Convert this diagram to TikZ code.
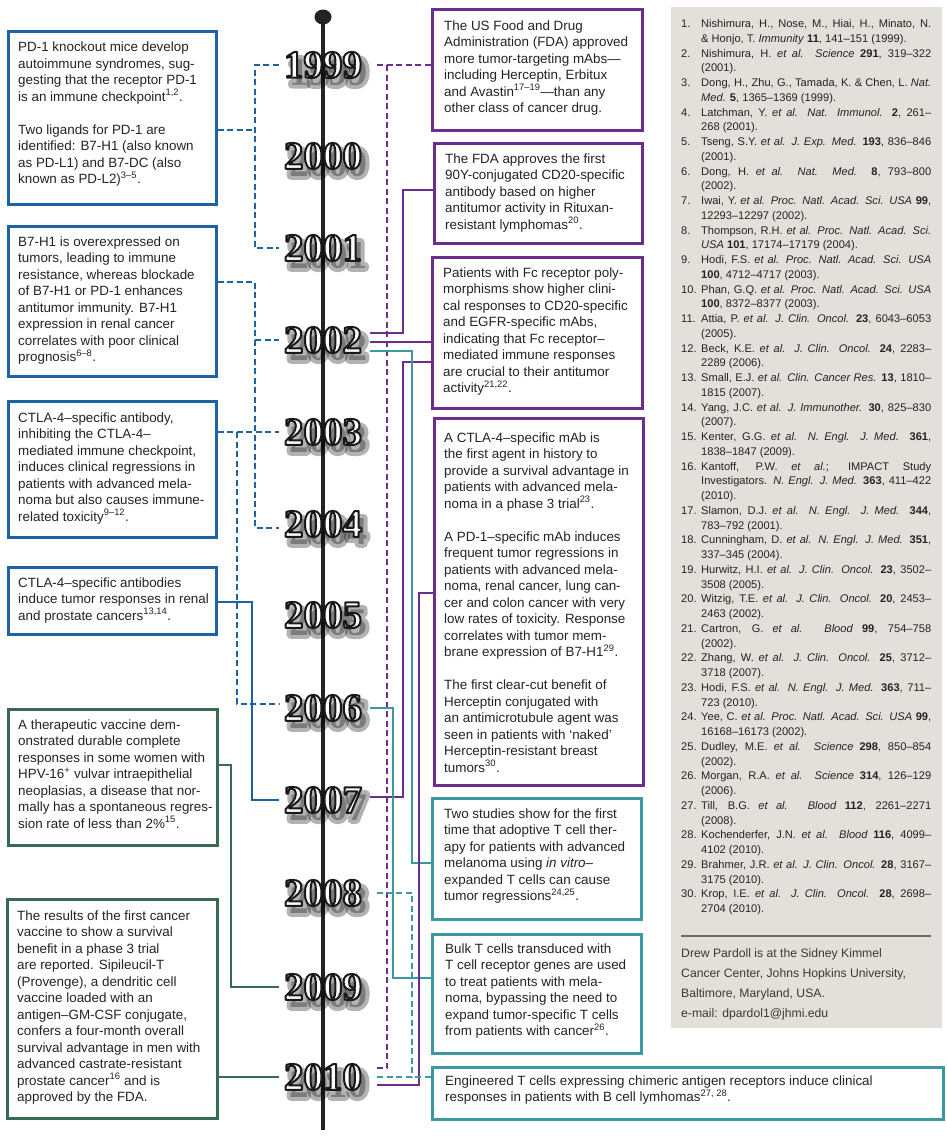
\documentclass[tikz,border=0pt]{standalone}
\usepackage{fontspec}
\setmainfont{Liberation Sans}
\newfontfamily\yearfam{Liberation Serif}
\usetikzlibrary{calc,shapes.geometric}
\definecolor{cblue}{RGB}{30,98,166}
\definecolor{cpurple}{RGB}{108,46,142}
\definecolor{cteal}{RGB}{60,153,163}
\definecolor{cgreen}{RGB}{55,106,80}
\definecolor{panelc}{RGB}{227,223,219}
\definecolor{ink}{RGB}{38,34,35}
\definecolor{rulec}{RGB}{110,105,100}
\definecolor{authc}{RGB}{60,56,52}
\newcommand\bodyfont{\fontsize{13.4}{16.5}\selectfont}
\newcommand\reffont{\fontsize{11.1}{14.75}\selectfont}
\newcommand\yrfont{\yearfam\bfseries\fontsize{39}{40}\selectfont}
\newcommand\st{\rule{0pt}{10pt}}
\newcommand\sups[1]{\textsuperscript{#1}}
\newcommand\rf[3]{\makebox[20pt][l]{#1.}\makebox[230pt][s]{#2}\\\hspace*{20pt}#3}
% outlined text: stroke width, stroke rgb, fill rgb, text
\newcommand\outl[4]{\special{pdf:literal direct q 2 Tr 1 j 1 J #1 w #2 RG #3 rg}#4\special{pdf:literal direct Q}}
\newcommand\yearnode[3]{%
  \node[yr, opacity=0.3] at (323+5,#2+7) {\outl{8}{0 0 0}{0 0 0}{#3}};
  \node[yr] (#1) at (323,#2) {\outl{2}{0.1 0.1 0.1}{1 1 1}{#3}};
}
\tikzset{
  box/.style={draw, line width=2.9pt, anchor=north west, inner sep=0pt, fill=white},
  bluebox/.style={box, draw=cblue},
  greenbox/.style={box, draw=cgreen},
  purplebox/.style={box, draw=cpurple},
  tealbox/.style={box, draw=cteal},
  txt/.style={anchor=north west, inner sep=0pt, align=left, font=\bodyfont, text=ink},
  yr/.style={font=\yrfont, inner sep=0pt},
  conn/.style={line width=2.4pt},
  bsolid/.style={conn, draw=cblue},
  bdash/.style={bsolid, dash pattern=on 6pt off 3.5pt},
  gsolid/.style={conn, draw=cgreen},
  psolid/.style={conn, draw=cpurple},
  pdash/.style={psolid, dash pattern=on 6pt off 3.5pt},
  tsolid/.style={conn, draw=cteal},
  tdash/.style={tsolid, dash pattern=on 6pt off 3.5pt},
}
\begin{document}
\begin{tikzpicture}[x=1pt,y=-1pt]
\useasboundingbox (0,0) rectangle (946,1136);
\fill[white] (0,0) rectangle (946,1136);
% reference panel
\node[fill=panelc, inner sep=0pt, minimum width=271pt, minimum height=1021pt, anchor=north west] (panel) at (671,7) {};
% timeline
\node[ellipse, fill=ink, inner sep=0pt, minimum width=17pt, minimum height=15pt] (top) at (323,17) {};
\coordinate (bottom) at (323,1130);
\draw[ink, line width=3.6pt] (top.center) -- (bottom);
% years
\yearnode{y1999}{65}{1999}
\yearnode{y2000}{156}{2000}
\yearnode{y2001}{248}{2001}
\yearnode{y2002}{340}{2002}
\yearnode{y2003}{432}{2003}
\yearnode{y2004}{524}{2004}
\yearnode{y2005}{615}{2005}
\yearnode{y2006}{708}{2006}
\yearnode{y2007}{800}{2007}
\yearnode{y2008}{893}{2008}
\yearnode{y2009}{987}{2009}
\yearnode{y2010}{1077}{2010}
% boxes
\node[bluebox, minimum width=208pt, minimum height=173pt] (bA) at (7,30) {};
\node[bluebox, minimum width=208pt, minimum height=150pt] (bB) at (7,225) {};
\node[bluebox, minimum width=208pt, minimum height=136pt] (bC) at (7,400) {};
\node[bluebox, minimum width=208pt, minimum height=67pt] (bD) at (7,566) {};
\node[greenbox, minimum width=209pt, minimum height=136pt] (bE) at (7,708) {};
\node[greenbox, minimum width=210pt, minimum height=219pt] (bF) at (6,898) {};
\node[purplebox, minimum width=210pt, minimum height=121pt] (bG) at (431,8) {};
\node[purplebox, minimum width=208pt, minimum height=100pt] (bH) at (433,142) {};
\node[purplebox, minimum width=210pt, minimum height=151pt] (bI) at (431,256) {};
\node[purplebox, minimum width=209pt, minimum height=367pt] (bJ) at (433,417) {};
\node[tealbox, minimum width=209pt, minimum height=121pt] (bK) at (431,797) {};
\node[tealbox, minimum width=209pt, minimum height=119pt] (bL) at (431,933) {};
\node[tealbox, minimum width=511pt, minimum height=52pt] (bM) at (431,1066) {};
% box texts
\node[txt] (tA) at (18,41.5) {\st PD-1 knockout mice develop\\autoimmune syndromes, sug-\\gesting that the receptor PD-1\\is an immune checkpoint\sups{1,2}.\\[16.5pt]Two ligands for PD-1 are\\identified: B7-H1 (also known\\as PD-L1) and B7-DC (also\\known as PD-L2)\sups{3–5}.};
\node[txt] (tB) at (18,236) {\st B7-H1 is overexpressed on\\tumors, leading to immune\\resistance, whereas blockade\\of B7-H1 or PD-1 enhances\\antitumor immunity. B7-H1\\expression in renal cancer\\correlates with poor clinical\\prognosis\sups{6–8}.};
\node[txt] (tC) at (18,412) {\st CTLA-4–specific antibody,\\inhibiting the CTLA-4–\\mediated immune checkpoint,\\induces clinical regressions in\\patients with advanced mela-\\noma but also causes immune-\\related toxicity\sups{9–12}.};
\node[txt] (tD) at (18,577) {\st CTLA-4–specific antibodies\\induce tumor responses in renal\\and prostate cancers\sups{13,14}.};
\node[txt] (tE) at (18,719) {\st A therapeutic vaccine dem-\\onstrated durable complete\\responses in some women with\\HPV-16\sups{+} vulvar intraepithelial\\neoplasias, a disease that nor-\\mally has a spontaneous regres-\\sion rate of less than 2\%\sups{15}.};
\node[txt] (tF) at (17,910) {\st The results of the first cancer\\vaccine to show a survival\\benefit in a phase 3 trial\\are reported. Sipileucil-T\\(Provenge), a dendritic cell\\vaccine loaded with an\\antigen–GM-CSF conjugate,\\confers a four-month overall\\survival advantage in men with\\advanced castrate-resistant\\prostate cancer\sups{16} and is\\approved by the FDA.};
\node[txt] (tG) at (444,20) {\st The US Food and Drug\\Administration (FDA) approved\\more tumor-targeting mAbs—\\including Herceptin, Erbitux\\and Avastin\sups{17–19}—than any\\other class of cancer drug.};
\node[txt] (tH) at (445,153) {\st The FDA approves the first\\90Y-conjugated CD20-specific\\antibody based on higher\\antitumor activity in Rituxan-\\resistant lymphomas\sups{20}.};
\node[txt] (tI) at (443,267) {\st Patients with Fc receptor poly-\\morphisms show higher clini-\\cal responses to CD20-specific\\and EGFR-specific mAbs,\\indicating that Fc receptor–\\mediated immune responses\\are crucial to their antitumor\\activity\sups{21,22}.};
\node[txt] (tJ) at (444,432) {\st A CTLA-4–specific mAb is\\the first agent in history to\\provide a survival advantage in\\patients with advanced mela-\\noma in a phase 3 trial\sups{23}.\\[16.5pt]A PD-1–specific mAb induces\\frequent tumor regressions in\\patients with advanced mela-\\noma, renal cancer, lung can-\\cer and colon cancer with very\\low rates of toxicity. Response\\correlates with tumor mem-\\brane expression of B7-H1\sups{29}.\\[16.5pt]The first clear-cut benefit of\\Herceptin conjugated with\\an antimicrotubule agent was\\seen in patients with ‘naked’\\Herceptin-resistant breast\\tumors\sups{30}.};
\node[txt] (tK) at (444,808) {\st Two studies show for the first\\time that adoptive T cell ther-\\apy for patients with advanced\\melanoma using \textit{in vitro}–\\expanded T cells can cause\\tumor regressions\sups{24,25}.};
\node[txt] (tL) at (445,943) {\st Bulk T cells transduced with\\T cell receptor genes are used\\to treat patients with mela-\\noma, bypassing the need to\\expand tumor-specific T cells\\from patients with cancer\sups{26}.};
\node[txt] (tM) at (445,1075) {\st Engineered T cells expressing chimeric antigen receptors induce clinical\\responses in patients with B cell lymhomas\sups{27, 28}.};
% references
\node[anchor=north west, inner sep=0pt, align=left, font=\reffont, text=ink] (refs) at (681,18.4) {\rule{0pt}{9pt}%
\rf{1}{Nishimura, H., Nose, M., Hiai, H., Minato, N.}{\& Honjo, T. \textit{Immunity} \textbf{11}, 141–151 (1999).}\\
\rf{2}{Nishimura, H. \textit{et al. Science} \textbf{291}, 319–322}{(2001).}\\
\rf{3}{Dong, H., Zhu, G., Tamada, K. \& Chen, L. \textit{Nat.}}{\textit{Med.} \textbf{5}, 1365–1369 (1999).}\\
\rf{4}{Latchman, Y. \textit{et al. Nat. Immunol.} \textbf{2}, 261–}{268 (2001).}\\
\rf{5}{Tseng, S.Y. \textit{et al. J. Exp. Med.} \textbf{193}, 836–846}{(2001).}\\
\rf{6}{Dong, H. \textit{et al. Nat. Med.} \textbf{8}, 793–800}{(2002).}\\
\rf{7}{Iwai, Y. \textit{et al. Proc. Natl. Acad. Sci. USA} \textbf{99},}{12293–12297 (2002).}\\
\rf{8}{Thompson, R.H. \textit{et al. Proc. Natl. Acad. Sci.}}{\textit{USA} \textbf{101}, 17174–17179 (2004).}\\
\rf{9}{Hodi, F.S. \textit{et al. Proc. Natl. Acad. Sci. USA}}{\textbf{100}, 4712–4717 (2003).}\\
\rf{10}{Phan, G.Q. \textit{et al. Proc. Natl. Acad. Sci. USA}}{\textbf{100}, 8372–8377 (2003).}\\
\rf{11}{Attia, P. \textit{et al. J. Clin. Oncol.} \textbf{23}, 6043–6053}{(2005).}\\
\rf{12}{Beck, K.E. \textit{et al. J. Clin. Oncol.} \textbf{24}, 2283–}{2289 (2006).}\\
\rf{13}{Small, E.J. \textit{et al. Clin. Cancer Res.} \textbf{13}, 1810–}{1815 (2007).}\\
\rf{14}{Yang, J.C. \textit{et al. J. Immunother.} \textbf{30}, 825–830}{(2007).}\\
\rf{15}{Kenter, G.G. \textit{et al. N. Engl. J. Med.} \textbf{361},}{1838–1847 (2009).}\\
\rf{16}{Kantoff, P.W. \textit{et al.}; IMPACT Study}{\makebox[230pt][s]{Investigators. \textit{N. Engl. J. Med.} \textbf{363}, 411–422}}\\
\hspace*{20pt}(2010).\\
\rf{17}{Slamon, D.J. \textit{et al. N. Engl. J. Med.} \textbf{344},}{783–792 (2001).}\\
\rf{18}{Cunningham, D. \textit{et al. N. Engl. J. Med.} \textbf{351},}{337–345 (2004).}\\
\rf{19}{Hurwitz, H.I. \textit{et al. J. Clin. Oncol.} \textbf{23}, 3502–}{3508 (2005).}\\
\rf{20}{Witzig, T.E. \textit{et al. J. Clin. Oncol.} \textbf{20}, 2453–}{2463 (2002).}\\
\rf{21}{Cartron, G. \textit{et al. Blood} \textbf{99}, 754–758}{(2002).}\\
\rf{22}{Zhang, W. \textit{et al. J. Clin. Oncol.} \textbf{25}, 3712–}{3718 (2007).}\\
\rf{23}{Hodi, F.S. \textit{et al. N. Engl. J. Med.} \textbf{363}, 711–}{723 (2010).}\\
\rf{24}{Yee, C. \textit{et al. Proc. Natl. Acad. Sci. USA} \textbf{99},}{16168–16173 (2002).}\\
\rf{25}{Dudley, M.E. \textit{et al. Science} \textbf{298}, 850–854}{(2002).}\\
\rf{26}{Morgan, R.A. \textit{et al. Science} \textbf{314}, 126–129}{(2006).}\\
\rf{27}{Till, B.G. \textit{et al. Blood} \textbf{112}, 2261–2271}{(2008).}\\
\rf{28}{Kochenderfer, J.N. \textit{et al. Blood} \textbf{116}, 4099–}{4102 (2010).}\\
\rf{29}{Brahmer, J.R. \textit{et al. J. Clin. Oncol.} \textbf{28}, 3167–}{3175 (2010).}\\
\rf{30}{Krop, I.E. \textit{et al. J. Clin. Oncol.} \textbf{28}, 2698–}{2704 (2010).}};
\coordinate (rl) at (681,936);
\coordinate (rr) at (931,936);
\draw[rulec, line width=1.1pt] (rl) -- (rr);
\node[anchor=north west, inner sep=0pt, align=left, font=\fontsize{12.2}{20}\selectfont, text=authc] (auth) at (681,947.3) {\st Drew Pardoll is at the Sidney Kimmel\\Cancer Center, Johns Hopkins University,\\Baltimore, Maryland, USA.\\e-mail: dpardol1@jhmi.edu};
% left connectors
\coordinate (jA) at (255,130);
\draw[bdash] (bA.east |- jA) -- (jA);
\draw[bdash] ([xshift=-5pt]y1999.west) -| (jA) |- ([xshift=-5pt]y2001.west);
\coordinate (jB) at (255,282);
\draw[bdash] (bB.east |- jB) -- (jB) |- ([xshift=-5pt,yshift=-4pt]y2004.west);
\draw[bdash] (jB |- y2002) -- ([xshift=-5pt]y2002.west);
\coordinate (jC) at (237,432);
\draw[bdash] (bC.east |- y2003) -- ([xshift=-5pt]y2003.west);
\draw[bdash] (jC |- y2003) |- ([xshift=-5pt,yshift=4pt]y2006.west);
\coordinate (jD) at (252,602);
\draw[bsolid] (bD.east |- jD) -- (jD) |- ([xshift=-5pt]y2007.west);
\coordinate (jE) at (231,765);
\draw[gsolid] (bE.east |- jE) -- (jE) |- ([xshift=-5pt]y2009.west);
\draw[gsolid] (bF.east |- y2010) -- ([xshift=-5pt]y2010.west);
% right connectors
\coordinate (jG) at (387,65);
\draw[pdash] ([xshift=15pt]y1999.east) -- (bG.west |- y1999);
\draw[pdash] (jG |- y1999) |- ([xshift=15pt,yshift=9pt]y2010.east);
\coordinate (jH) at (403,190);
\draw[psolid] (bH.west |- jH) -- (jH) |- ([xshift=8pt,yshift=7pt]y2002.east);
\coordinate (cI) at ([xshift=8pt,yshift=-2pt]y2002.east);
\draw[psolid] (cI) -- (cI -| bI.west);
\coordinate (jI) at (403,362);
\draw[psolid] (bI.west |- jI) -- (jI) |- ([xshift=8pt,yshift=3pt]y2007.east);
\coordinate (jK) at (412,863);
\draw[tsolid] ([xshift=8pt,yshift=-11pt]y2002.east) -| (jK) -- (jK -| bK.west);
\coordinate (jL) at (393,978);
\draw[tsolid] ([xshift=8pt]y2006.east) -| (jL) -- (jL -| bL.west);
\coordinate (jJ) at (419,593);
\draw[psolid] (bJ.west |- jJ) -- (jJ) |- ([xshift=15pt,yshift=-8pt]y2010.east);
\coordinate (jM) at (412,1077);
\draw[tdash] ([xshift=15pt]y2010.east) -- (bM.west |- y2010);
\draw[tdash] ([xshift=15pt]y2008.east) -| (jM);
\end{tikzpicture}
\end{document}
